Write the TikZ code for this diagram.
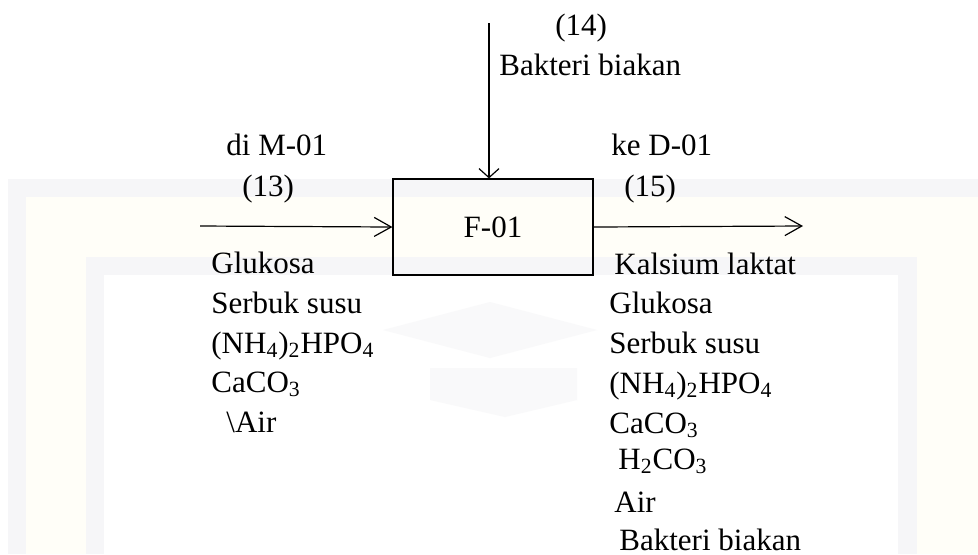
\documentclass[tikz,border=0pt]{standalone}
\usepackage{fontspec}
\setmainfont{Liberation Serif}
\usetikzlibrary{arrows.meta}
\definecolor{wmgray}{HTML}{F6F6F8}
\definecolor{wmyellow}{HTML}{FFFEF8}
\definecolor{wmlogo}{HTML}{F9F9FA}
\begin{document}
\begin{tikzpicture}[x=0.5pt,y=-0.5pt,
  lbl/.style={anchor=base west, inner sep=0pt, font=\fontsize{15.5}{18}\selectfont},
  unit/.style={draw, line width=0.6pt, minimum width=100pt, minimum height=48pt,
    inner sep=0pt, font=\fontsize{15.5}{18}\selectfont},
  flow/.style={line width=0.6pt, -{Straight Barb[length=8.5pt,width=9.5pt,line width=0.6pt]}},
  feed/.style={line width=0.6pt, -{Straight Barb[length=4.5pt,width=10pt,line width=0.6pt]}}]
\useasboundingbox (0,0) rectangle (978,554);

% faint background frame
\fill[wmgray] (8,179) rectangle (978,554);
\fill[wmyellow] (26,197) rectangle (978,554);
\fill[wmgray] (86,257) rectangle (917,554);
\fill[white] (104,275) rectangle (898,554);
\fill[wmlogo] (383,330) -- (490,302) -- (597,330) -- (490,358) -- cycle;
\fill[wmlogo] (430,368) -- (577,368) -- (577,400) -- (505,417) -- (430,400) -- cycle;

% fermenter
\node[unit] (f01) at (493,227) {F-01};

% stream ends
\coordinate (inL) at (200,226);
\coordinate (outR) at (803,226);
\coordinate (inT) at (489,23);

\draw[flow] (inL) -- (f01.west);
\draw[flow] (f01.east) -- (outR);
\draw[feed] (inT) -- (inT |- f01.north);

% stream labels
\node[lbl] (s14) at (555,35) {(14)};
\node[lbl] (s14n) at (499,75) {Bakteri biakan};
\node[lbl] (s13a) at (226,155) {di M-01};
\node[lbl] (s13) at (242,196) {(13)};
\node[lbl] (s15a) at (611,155) {ke D-01};
\node[lbl] (s15) at (624,196) {(15)};

% inlet composition
\node[lbl] (l1) at (211,273) {Glukosa};
\node[lbl] (l2) at (211,313) {Serbuk susu};
\node[lbl] (l3) at (211,353) {(NH\textsubscript{4})\textsubscript{2}HPO\textsubscript{4}};
\node[lbl] (l4) at (211,392) {CaCO\textsubscript{3}};
\node[lbl] (l5) at (226,432) {\textbackslash Air};

% outlet composition
\node[lbl] (r1) at (614,274) {Kalsium laktat};
\node[lbl] (r2) at (609,313) {Glukosa};
\node[lbl] (r3) at (609,353) {Serbuk susu};
\node[lbl] (r4) at (609,393) {(NH\textsubscript{4})\textsubscript{2}HPO\textsubscript{4}};
\node[lbl] (r5) at (609,433) {CaCO\textsubscript{3}};
\node[lbl] (r6) at (618,469) {H\textsubscript{2}CO\textsubscript{3}};
\node[lbl] (r7) at (614,512) {Air};
\node[lbl] (r8) at (619,550) {Bakteri biakan};
\end{tikzpicture}
\end{document}
